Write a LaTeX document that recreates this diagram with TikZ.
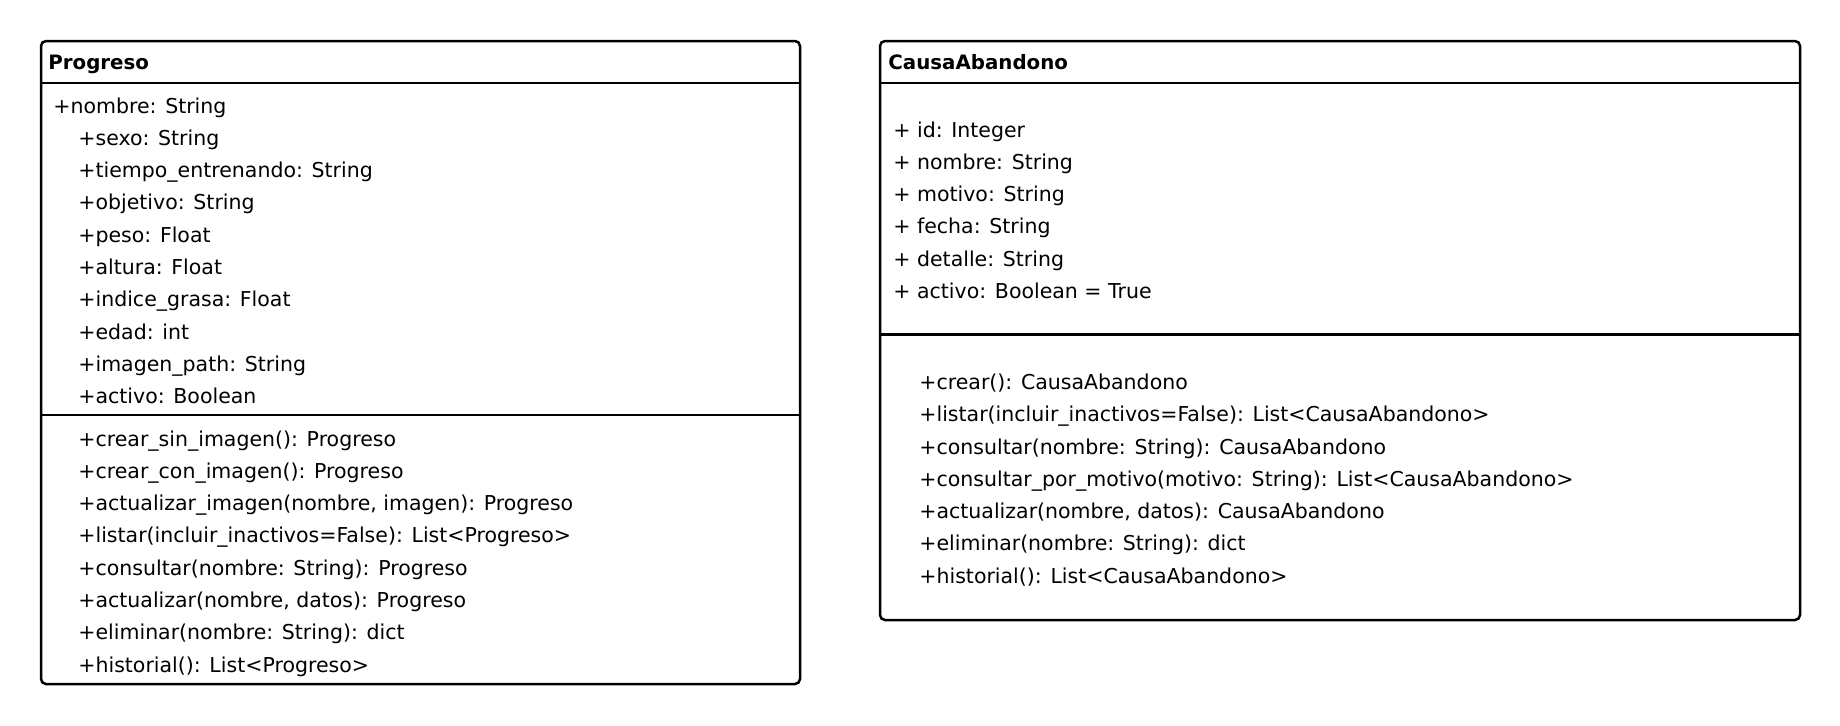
\documentclass[tikz,border=0pt]{standalone}
\usepackage{fontspec}
\setmainfont{DejaVu Sans}
\begin{document}
\begin{tikzpicture}[x=0.5pt,y=-0.5pt,
  txt/.style={anchor=base west, inner sep=0pt, font=\fontsize{10.25pt}{12pt}\selectfont},
  ttl/.style={anchor=base west, inner sep=0pt, font=\fontsize{9.9pt}{11pt}\selectfont\bfseries},
  frame/.style={line width=1.25pt, rounded corners=2.5pt},
  sep/.style={line width=1.25pt}]
\useasboundingbox (0,0) rectangle (1840,725);
% Progreso box
\draw[frame] (41,41) rectangle (800,684);
\draw[sep] (41,83) -- (800,83);
\draw[sep] (41,415) -- (800,415);
\node[ttl] (ptitle) at (48,69) {Progreso};
\node[txt] (pa1) at (53,113) {+nombre: String};
\node[txt] (pa2) at (78,145.3) {+sexo: String};
\node[txt] (pa3) at (78,177.6) {+tiempo\_entrenando: String};
\node[txt] (pa4) at (78,209.9) {+objetivo: String};
\node[txt] (pa5) at (78,242.2) {+peso: Float};
\node[txt] (pa6) at (78,274.5) {+altura: Float};
\node[txt] (pa7) at (78,306.8) {+indice\_grasa: Float};
\node[txt] (pa8) at (78,339.1) {+edad: int};
\node[txt] (pa9) at (78,371.4) {+imagen\_path: String};
\node[txt] (pa10) at (78,403.7) {+activo: Boolean};
\node[txt] (pm1) at (78,446) {+crear\_sin\_imagen(): Progreso};
\node[txt] (pm2) at (78,478.3) {+crear\_con\_imagen(): Progreso};
\node[txt] (pm3) at (78,510.6) {+actualizar\_imagen(nombre, imagen): Progreso};
\node[txt] (pm4) at (78,542.9) {+listar(incluir\_inactivos=False): List<Progreso>};
\node[txt] (pm5) at (78,575.2) {+consultar(nombre: String): Progreso};
\node[txt] (pm6) at (78,607.5) {+actualizar(nombre, datos): Progreso};
\node[txt] (pm7) at (78,639.8) {+eliminar(nombre: String): dict};
\node[txt] (pm8) at (78,672.1) {+historial(): List<Progreso>};
% CausaAbandono box
\draw[frame] (880,41) rectangle (1800,620);
\draw[sep] (880,83) -- (1800,83);
\draw[sep] (880,334.5) -- (1800,334.5);
\node[ttl] (ctitle) at (888,69) {CausaAbandono};
\node[txt] (ca1) at (893,137) {+ id: Integer};
\node[txt] (ca2) at (893,169.3) {+ nombre: String};
\node[txt] (ca3) at (893,201.6) {+ motivo: String};
\node[txt] (ca4) at (893,233.9) {+ fecha: String};
\node[txt] (ca5) at (893,266.2) {+ detalle: String};
\node[txt] (ca6) at (893,298.5) {+ activo: Boolean = True};
\node[txt] (cm1) at (919,389.4) {+crear(): CausaAbandono};
\node[txt] (cm2) at (919,421.7) {+listar(incluir\_inactivos=False): List<CausaAbandono>};
\node[txt] (cm3) at (919,454) {+consultar(nombre: String): CausaAbandono};
\node[txt] (cm4) at (919,486.3) {+consultar\_por\_motivo(motivo: String): List<CausaAbandono>};
\node[txt] (cm5) at (919,518.6) {+actualizar(nombre, datos): CausaAbandono};
\node[txt] (cm6) at (919,550.9) {+eliminar(nombre: String): dict};
\node[txt] (cm7) at (919,583.2) {+historial(): List<CausaAbandono>};
\end{tikzpicture}
\end{document}
